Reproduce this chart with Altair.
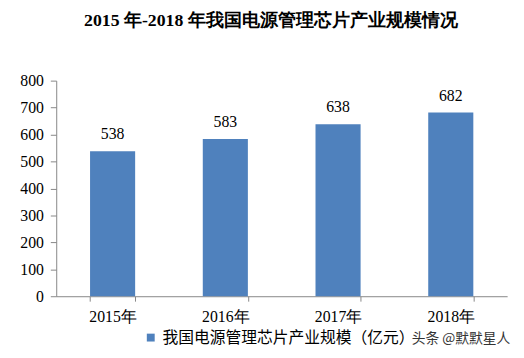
import altair as alt
import pandas as pd

years = ["2015年", "2016年", "2017年", "2018年"]
values = [538, 583, 638, 682]
y_ticks = [0, 100, 200, 300, 400, 500, 600, 700, 800]
series = "我国电源管理芯片产业规模（亿元）"
title_text = "2015 年-2018 年我国电源管理芯片产业规模情况"
watermark = "头条 @默默星人"

df = pd.DataFrame({"year": years, "value": values, "series": [series] * 4})

serif = "Liberation Serif"
sans = "Noto Sans CJK SC"

x_enc = alt.X("year:N", sort=years, title=None,
              scale=alt.Scale(paddingInner=0.6, paddingOuter=0.3),
              axis=alt.Axis(labelAngle=0, tickBand="extent", labelFont=serif,
                            labelFontSize=16, labelColor="#000", labelPadding=8,
                            tickSize=5, tickColor="#868686", domainColor="#868686",
                            grid=False))
y_enc = alt.Y("value:Q", title=None,
              scale=alt.Scale(domain=[0, 800]),
              axis=alt.Axis(values=y_ticks, labelFont=serif,
                            labelFontSize=16, labelColor="#000", labelPadding=7,
                            labelOverlap=False, labelFlush=False,
                            tickSize=6, tickColor="#868686", domainColor="#868686",
                            grid=False))

base = alt.Chart(df)

bars = base.mark_bar(color="#4F81BD").encode(
    x=x_enc,
    y=y_enc,
    fill=alt.Fill("series:N",
                  scale=alt.Scale(range=["#4F81BD"]),
                  legend=alt.Legend(title=None, orient="none", legendX=88, legendY=253,
                                    symbolType="square", symbolSize=64,
                                    labelFont=sans, labelFontSize=16,
                                    labelColor="#000", labelLimit=400)),
)

labels = base.mark_text(font=serif, fontSize=16, baseline="bottom", dy=-9,
                        color="#000").encode(
    x=x_enc,
    y=y_enc,
    text="value:Q",
)

wm = alt.Chart(pd.DataFrame({"t": [watermark]})).mark_text(
    font=sans, fontSize=14, color="#333", align="left", baseline="middle"
).encode(x=alt.value(361), y=alt.value(262), text="t:N")

chart = alt.layer(bars, labels, wm).properties(
    width=458, height=219,
    autosize=alt.AutoSizeParams(type="none"),
    padding={"left": 49, "top": 71, "right": 9, "bottom": 63},
    title=alt.TitleParams(title_text, font=serif, fontSize=18, fontWeight="bold",
                          color="#000", anchor="middle", dx=-11, offset=43),
).configure_view(stroke=None)

chart.save("out.html", embed_options={"renderer": "svg", "actions": False})
